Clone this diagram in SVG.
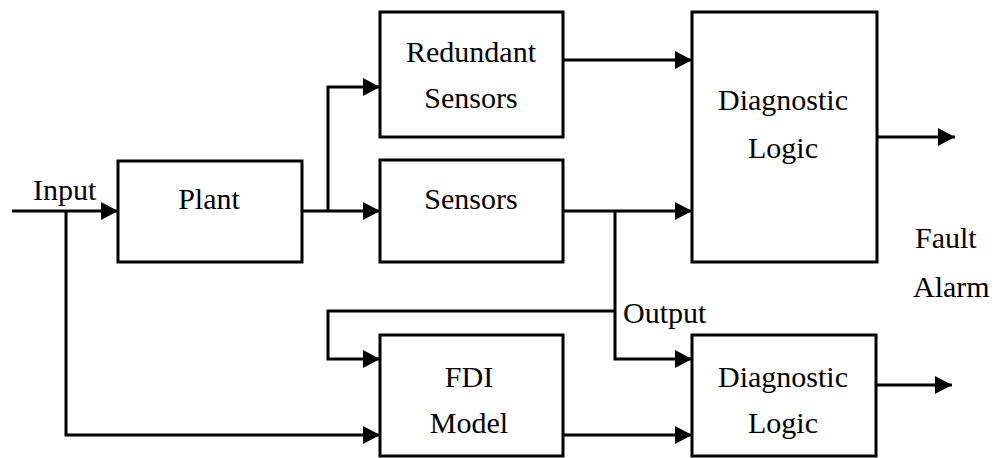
<svg xmlns="http://www.w3.org/2000/svg" width="995" height="458" viewBox="0 0 995 458">
<style>
.box{fill:#fff;stroke:#000;stroke-width:3}
.ln{fill:none;stroke:#000;stroke-width:3}
.arr{marker-end:url(#ah)}
text{font-family:"Liberation Serif","Times New Roman",serif;font-size:30px;fill:#000}
.c{text-anchor:middle}
</style>
<defs>
<marker id="ah" markerUnits="userSpaceOnUse" markerWidth="18" markerHeight="20" refX="17" refY="9" orient="auto">
<path d="M0,0 L17,9 L0,18 z" fill="#000"/>
</marker>
</defs>
<g id="connectors">
<path class="ln arr" d="M12,211 H118"/>
<path class="ln arr" d="M66,211 V435 H380"/>
<path class="ln arr" d="M302,211 H380"/>
<path class="ln arr" d="M328,211 V87 H380"/>
<path class="ln arr" d="M563,60 H692"/>
<path class="ln arr" d="M563,211 H692"/>
<path class="ln arr" d="M615,211 V359 H692"/>
<path class="ln arr" d="M615,311 H328 V359 H380"/>
<path class="ln arr" d="M563,435 H692"/>
<path class="ln arr" d="M877,137 H955"/>
<path class="ln arr" d="M876,385 H952"/>
</g>
<g id="plant">
<rect class="box" x="118" y="161" width="184" height="101"/>
<text class="c" x="209" y="209">Plant</text>
</g>
<g id="redundant-sensors">
<rect class="box" x="380" y="12" width="183" height="125"/>
<text class="c" x="471" y="62">Redundant</text>
<text class="c" x="471" y="108">Sensors</text>
</g>
<g id="sensors">
<rect class="box" x="380" y="160" width="183" height="102"/>
<text class="c" x="471" y="209">Sensors</text>
</g>
<g id="diagnostic-logic-1">
<rect class="box" x="692" y="12" width="185" height="250"/>
<text class="c" x="783" y="110">Diagnostic</text>
<text class="c" x="783" y="158">Logic</text>
</g>
<g id="fdi-model">
<rect class="box" x="380" y="335" width="183" height="121"/>
<text class="c" x="469" y="387">FDI</text>
<text class="c" x="469" y="433">Model</text>
</g>
<g id="diagnostic-logic-2">
<rect class="box" x="692" y="335" width="184" height="121"/>
<text class="c" x="783" y="387">Diagnostic</text>
<text class="c" x="783" y="433">Logic</text>
</g>
<g id="labels">
<text x="33" y="200">Input</text>
<text x="623" y="323">Output</text>
<text x="915" y="248">Fault</text>
<text x="913" y="297">Alarm</text>
</g>
</svg>
